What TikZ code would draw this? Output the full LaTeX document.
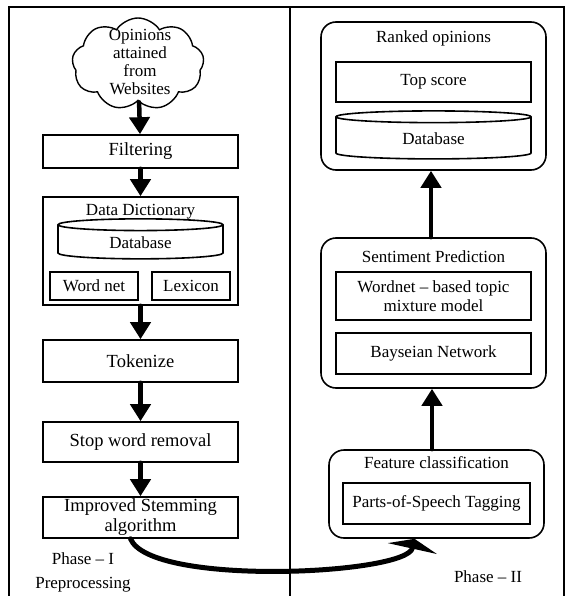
\documentclass[tikz,border=0pt]{standalone}
\usepackage{fontspec}
\setmainfont{Liberation Serif}
\usetikzlibrary{shapes.geometric,shapes.symbols,arrows.meta}

\begin{document}
\begin{tikzpicture}[x=1pt, y=-1pt, line cap=round, >={Triangle[width=20pt,length=17pt]},
  etape/.style={draw, line width=1.6pt, minimum width=195pt, align=center, inner sep=1pt,
    font=\fontsize{18.5}{20}\selectfont},
  bloc/.style={draw, line width=1.6pt, rounded corners=15pt},
  souscase/.style={draw, line width=1.6pt, align=center, inner sep=1pt,
    font=\fontsize{17}{19}\selectfont},
  titre/.style={font=\fontsize{17}{19}\selectfont},
  base/.style={cylinder, shape border rotate=90, aspect=0.17, draw, line width=1.6pt,
    font=\fontsize{17}{19}\selectfont},
  fleche/.style={->, line width=4.5pt}]

\useasboundingbox (0,0) rectangle (568,596);

%% Le cadre et la separation des deux phases.

\draw[line width=1.6pt] (9,596) -- (9,7) -- (564,7) -- (564,596);
\draw[line width=1.2pt] (290,7) -- (290,596);

%% Phase I : pretraitement.

\node[cloud, draw, line width=1.4pt, cloud puffs=9, cloud puff arc=115,
  minimum width=132pt, minimum height=92pt] (nuage) at (138,64) {};
\node[titre, align=center, font=\fontsize{17}{18}\selectfont] (avis) at (140,62)
  {Opinions\\attained\\from\\Websites};

\node[etape, minimum height=33pt] (filtrage) at (140.5,151.5) {Filtering};

\node[draw, line width=1.6pt, minimum width=195pt, minimum height=108pt] (dico) at (140.5,251) {};
\node[titre] (dicotitre) at (140.5,212) {Data Dictionary};
\node[base, minimum width=165pt, minimum height=40pt] (basedico) at (140.5,243) {Database};
\node[souscase, minimum width=88pt, minimum height=28pt] (wordnet) at (94,286) {Word net};
\node[souscase, minimum width=78pt, minimum height=28pt] (lexique) at (191,286) {Lexicon};

\node[etape, minimum height=42pt] (tokenize) at (140.5,361) {Tokenize};
\node[etape, minimum height=40pt] (stopword) at (140.5,442) {Stop word removal};
\node[etape, minimum height=41pt] (stemming) at (140.5,517.5) {Improved Stemming\\algorithm};

\node[titre, align=center, font=\fontsize{17}{24}\selectfont] (phaseun) at (83,572)
  {Phase -- I\\Preprocessing};

\draw[fleche] (nuage) -- (filtrage);
\draw[fleche] (filtrage) -- (dico);
\draw[fleche] (dico) -- (tokenize);
\draw[fleche] (tokenize) -- (stopword);
\draw[fleche] (stopword) -- (stemming);

%% Phase II : classement.

\node[bloc, minimum width=225pt, minimum height=148pt] (classe) at (433.5,96) {};
\node[titre] (classetitre) at (433.5,38) {Ranked opinions};
\node[souscase, minimum width=195pt, minimum height=40pt] (score) at (433.5,82) {Top score};
\node[base, minimum width=195pt, minimum height=48pt] (baseclasse) at (433.5,139) {Database};

\node[bloc, minimum width=225pt, minimum height=150pt] (sentiment) at (433.5,313) {};
\node[titre] (sentimenttitre) at (433.5,257) {Sentiment Prediction};
\node[souscase, minimum width=195pt, minimum height=48pt] (topique) at (433.5,296)
  {Wordnet -- based topic\\mixture model};
\node[souscase, minimum width=195pt, minimum height=41pt] (bayes) at (433.5,353.5) {Bayseian Network};

\node[bloc, minimum width=215pt, minimum height=88pt] (traits) at (436.5,494) {};
\node[titre] (traitstitre) at (436.5,463) {Feature classification};
\node[souscase, minimum width=187pt, minimum height=41pt] (etiquetage) at (436.5,503.5)
  {Parts-of-Speech Tagging};

\node[titre] (phasedeux) at (488,577) {Phase -- II};

\draw[fleche] (traits.north -| 432,0) -- (sentiment.south -| 432,0);
\draw[fleche] (sentiment.north -| 431,0) -- (classe.south -| 431,0);

%% Passage d'une phase a l'autre.

\draw[line width=5pt, -{Triangle[width=50pt,length=10pt]}]
  ([xshift=-10pt]stemming.south) .. controls +(20,48) and +(-8,36) .. ([xshift=-22pt]traits.south);

\end{tikzpicture}
\end{document}
